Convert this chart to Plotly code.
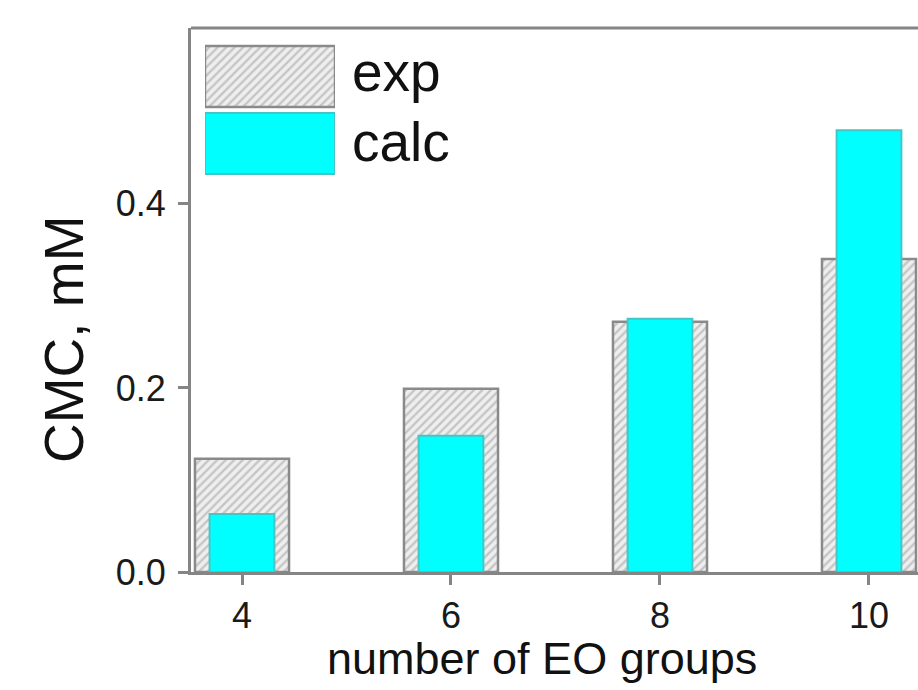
import plotly.graph_objects as go

eo_groups = [4, 6, 8, 10]
cmc_exp = [0.123, 0.199, 0.272, 0.340]
cmc_calc = [0.063, 0.148, 0.275, 0.480]
y_tick_vals = [0.0, 0.2, 0.4]
y_tick_text = ["0.0", "0.2", "0.4"]
legend_names = ["exp", "calc"]

FONT = "Liberation Sans, Arial, sans-serif"
AX = "#858585"

exp_marker = dict(
    color="#eeeeee",
    line=dict(color="#8a8a8a", width=2.5),
    pattern=dict(shape="/", fgcolor="#9c9c9c", bgcolor="#efefef", size=6, solidity=0.4),
)
calc_marker = dict(color="#00ffff", line=dict(color="#45c6c6", width=2))

fig = go.Figure()
fig.add_trace(go.Bar(x=eo_groups, y=cmc_exp, width=0.9, marker=exp_marker,
                     name=legend_names[0], showlegend=False))
fig.add_trace(go.Bar(x=eo_groups, y=cmc_calc, width=0.62, marker=calc_marker,
                     name=legend_names[1], showlegend=False))

# legend swatches drawn on a small hidden axis pair
fig.add_trace(go.Bar(y=[1], x=[1], orientation="h", width=0.91, marker=exp_marker,
                     xaxis="x2", yaxis="y2", showlegend=False, hoverinfo="skip"))
fig.add_trace(go.Bar(y=[0], x=[1], orientation="h", width=0.91, marker=calc_marker,
                     xaxis="x2", yaxis="y2", showlegend=False, hoverinfo="skip"))

W, H = 918, 690
L, T, B, R = 191, 28, 118, 0
pw, ph = W - L - R, H - T - B


def px(x):
    return (x - L) / pw


def py(y):
    return (H - B - y) / ph


fig.update_layout(
    width=W, height=H,
    margin=dict(l=L, r=R, t=T, b=B),
    paper_bgcolor="white", plot_bgcolor="white",
    barmode="overlay",
    font=dict(family=FONT, color="#111111"),
    xaxis=dict(
        range=[3.512, 10.469], tickvals=eo_groups, ticktext=[str(v) for v in eo_groups],
        showline=True, linecolor=AX, linewidth=3, showgrid=False, zeroline=False,
        ticks="outside", ticklen=10, tickwidth=2.5, tickcolor=AX,
        tickfont=dict(size=36, color="#1a1a1a", family=FONT),
    ),
    yaxis=dict(
        range=[0, 0.591], tickvals=y_tick_vals, ticktext=y_tick_text,
        showline=True, linecolor=AX, linewidth=3, showgrid=False, zeroline=False,
        ticks="outside", ticklen=10, tickwidth=2.5, tickcolor=AX, ticklabelstandoff=5,
        tickfont=dict(size=36, color="#1a1a1a", family=FONT),
    ),
    xaxis2=dict(domain=[px(205), px(335)], range=[0, 1], anchor="y2", visible=False,
                fixedrange=True),
    yaxis2=dict(domain=[py(177), py(43)], range=[-0.5, 1.5], anchor="x2", visible=False,
                fixedrange=True),
    shapes=[dict(type="line", xref="paper", yref="paper", x0=0, x1=1, y0=1, y1=1,
                 line=dict(color=AX, width=3))],
    annotations=[
        dict(text="number of EO groups", xref="paper", yref="paper", x=px(542), y=py(658),
             showarrow=False, xanchor="center", yanchor="middle",
             font=dict(size=45, family=FONT, color="#111111")),
        dict(text="CMC, mM", xref="paper", yref="paper", x=px(64), y=py(340),
             showarrow=False, xanchor="center", yanchor="middle", textangle=-90,
             font=dict(size=55, family=FONT, color="#111111")),
        dict(text=legend_names[0], xref="paper", yref="paper", x=px(350), y=py(72),
             showarrow=False, xanchor="left", yanchor="middle",
             font=dict(size=55, family=FONT, color="#111111")),
        dict(text=legend_names[1], xref="paper", yref="paper", x=px(350), y=py(142),
             showarrow=False, xanchor="left", yanchor="middle",
             font=dict(size=55, family=FONT, color="#111111")),
    ],
)

fig.write_html("out.html")
